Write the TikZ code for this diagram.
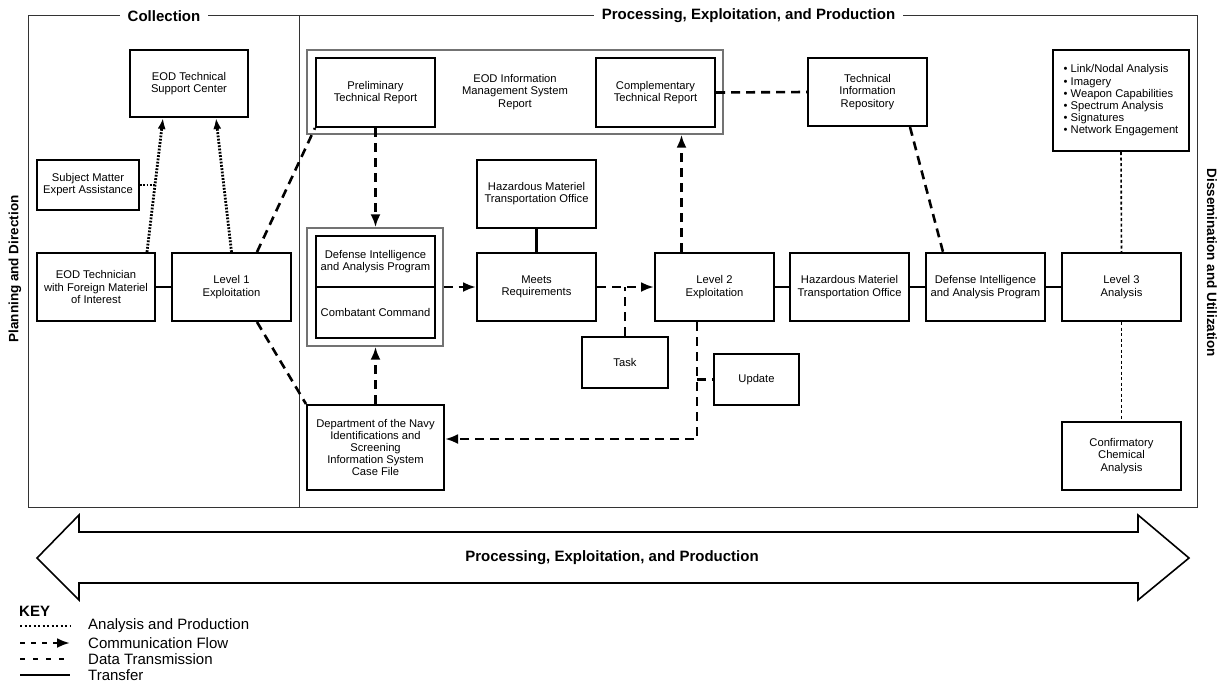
\documentclass[tikz,border=0pt]{standalone}
\usepackage{fontspec}
\setmainfont{Liberation Sans}
\usetikzlibrary{arrows.meta,calc}
\begin{document}
\begin{tikzpicture}[x=1pt,y=-1pt,
  box/.style={draw=black,line width=2pt,align=center,font=\fontsize{11.2}{12.2}\selectfont,inner sep=1pt,fill=white},
  wh/.style 2 args={minimum width=#1pt,minimum height=#2pt},
  std/.style={wh={119}{68}},
  gbox/.style={draw=black!55,line width=1.4pt,align=center,font=\fontsize{11.2}{12.2}\selectfont,inner sep=2pt},
  frame/.style={draw=black!80,line width=0.9pt},
  title/.style={fill=white,font=\bfseries\fontsize{15}{18}\selectfont,inner xsep=8pt,inner ysep=1pt},
  side/.style={font=\bfseries\fontsize{13.5}{16}\selectfont,inner sep=0pt},
  transfer/.style={line width=2.8pt},
  data/.style={line width=2.6pt,dash pattern=on 9pt off 6pt},
  comm/.style={line width=2.6pt,dash pattern=on 9pt off 6pt,-{Latex[length=13pt,width=10pt]}},
  aph/.style={line width=2.8pt,dash pattern=on 1.8pt off 1.5pt},
  apt/.style={line width=1.6pt,dash pattern=on 3pt off 2.5pt},
  keyt/.style={font=\fontsize{15}{16}\selectfont,inner sep=0pt,anchor=west},
]
\useasboundingbox (0,0) rectangle (1224,683);

% frames
\draw[frame] (28,15) rectangle (299,507);
\draw[frame] (299,15) rectangle (1197,507);
\node[title] (tcol) at (164,16) {Collection};
\node[title] (tpep) at (748.5,16) {Processing, Exploitation, and Production};
\node[side,rotate=90] (tpd) at (15,269) {Planning and Direction};
\node[side,rotate=-90] (tdu) at (1212,263) {Dissemination and Utilization};

% grouping boxes
\node[gbox,wh={416}{84}] (ims) at (515,92) {EOD Information\\Management System\\Report};
\node[gbox,wh={136}{118}] (dout) at (375,287) {};

% nodes
\node[box,wh={118}{67}] (tsc) at (189,83.5) {EOD Technical\\Support Center};
\node[box,wh={102}{50}] (sme) at (88,185) {Subject Matter\\Expert Assistance};
\node[box,wh={118}{68}] (tech) at (96,287) {EOD Technician\\with Foreign Materiel\\of Interest};
\node[box,std] (l1) at (231.5,287) {Level 1\\Exploitation};
\node[box,wh={119}{69}] (prelim) at (375.5,92.5) {Preliminary\\Technical Report};
\node[box,wh={119}{69}] (comp) at (655.5,92.5) {Complementary\\Technical Report};
\node[box,std] (tir) at (867.5,92) {Technical\\Information\\Repository};
\node[box,wh={136}{101},align=left] (bul) at (1121,100.5) {• Link/Nodal Analysis\\• Imagery\\• Weapon Capabilities\\• Spectrum Analysis\\• Signatures\\• Network Engagement};
\node[box,std] (hm1) at (536.5,194) {Hazardous Materiel\\Transportation Office};
\node[box,wh={119}{51}] (diap1) at (375.5,261.5) {Defense Intelligence\\and Analysis Program};
\node[box,wh={119}{51}] (cc) at (375.5,312.5) {Combatant Command};
\node[box,std] (meets) at (536.5,287) {Meets\\Requirements};
\node[box,std] (l2) at (714.5,287) {Level 2\\Exploitation};
\node[box,wh={86}{51}] (task) at (625,362.5) {Task};
\node[box,wh={85}{51}] (upd) at (756.5,379.5) {Update};
\node[box,wh={137}{85}] (don) at (375.5,447.5) {Department of the Navy\\Identifications and\\Screening\\Information System\\Case File};
\node[box,std] (hm2) at (849.5,287) {Hazardous Materiel\\Transportation Office};
\node[box,std] (diap2) at (985.5,287) {Defense Intelligence\\and Analysis Program};
\node[box,std] (l3) at (1121.5,287) {Level 3\\Analysis};
\node[box,std] (cca) at (1121.5,456) {Confirmatory\\Chemical\\Analysis};

% analysis and production (dotted)
\coordinate (jt) at ([xshift=51pt]tech.north);
\coordinate (jsme) at ($(jt)!0.5!([xshift=-26pt]tsc.south)$);
\draw[aph,-{Latex[length=11pt,width=8pt]}] (jt) -- ([xshift=-26pt]tsc.south);
\draw[aph] (sme.east) -- (sme.east -| jsme);
\draw[aph,-{Latex[length=11pt,width=8pt]}] (l1.north) -- ([xshift=27pt]tsc.south);
\draw[apt] (bul.south) -- (l3.north);
\draw[apt] (l3.south) -- (cca.north);

% transfer (solid)
\draw[transfer] (tech.east) -- (l1.west);
\draw[transfer] (hm1.south) -- (meets.north);
\draw[transfer] (l2.east) -- (hm2.west);
\draw[transfer] (hm2.east) -- (diap2.west);
\draw[transfer] (diap2.east) -- (l3.west);

% data transmission (dashed)
\draw[data] ([xshift=25.5pt]l1.north) -- (prelim.south west);
\draw[data] ([xshift=25.5pt]l1.south) -- (don.north west);
\draw[data] (task.north) -- (task.north |- meets.east);
\draw[data] (comp.east) -- (tir.west);
\draw[data] ([xshift=42.5pt]tir.south) -- ([xshift=-42.5pt]diap2.north);
\coordinate (l2s) at ([xshift=-17.5pt]l2.south);
\draw[data] (upd.west -| l2s) -- (upd.west);

% communication flow (dashed arrows)
\draw[comm] (prelim.south) -- (prelim.south |- dout.north);
\draw[comm] (don.north) -- (don.north |- dout.south);
\draw[comm] (dout.east) -- (meets.west);
\draw[comm] (meets.east) -- (l2.west);
\draw[comm] ([xshift=-33pt]l2.north) -- ([xshift=-33pt]l2.north |- ims.south);
\draw[comm] (l2s) |- ([yshift=8.5pt]don.east);

% big double arrow
\draw[line width=1.6pt,line join=miter] (37,558) -- (79,515) -- (79,532) -- (1138,532) -- (1138,515) -- (1189,558) -- (1138,600) -- (1138,583) -- (79,583) -- (79,600) -- cycle;
\node[font=\bfseries\fontsize{15}{18}\selectfont] (bigt) at (612,558) {Processing, Exploitation, and Production};

% key
\node[keyt,font=\bfseries\fontsize{15}{16}\selectfont] (key) at (19,611) {KEY};
\node[keyt] (k1) at (88,626) {Analysis and Production};
\node[keyt] (k2) at (88,643) {Communication Flow};
\node[keyt] (k3) at (88,659) {Data Transmission};
\node[keyt] (k4) at (88,675) {Transfer};
\coordinate (k1a) at (20,626); \coordinate (k1b) at (70,626);
\coordinate (k2a) at (20,643); \coordinate (k2b) at (70,643);
\coordinate (k3a) at (20,659); \coordinate (k3b) at (70,659);
\coordinate (k4a) at (20,675); \coordinate (k4b) at (70,675);
\draw[line width=1.2pt,dash pattern=on 2pt off 2.5pt] (k1a) -- (k1b);
\draw[comm,dash pattern=on 5pt off 6pt] (k2a) -- (k2b);
\draw[data,dash pattern=on 5pt off 8pt] (k3a) -- (k3b);
\draw[transfer] (k4a) -- (k4b);
\end{tikzpicture}
\end{document}
